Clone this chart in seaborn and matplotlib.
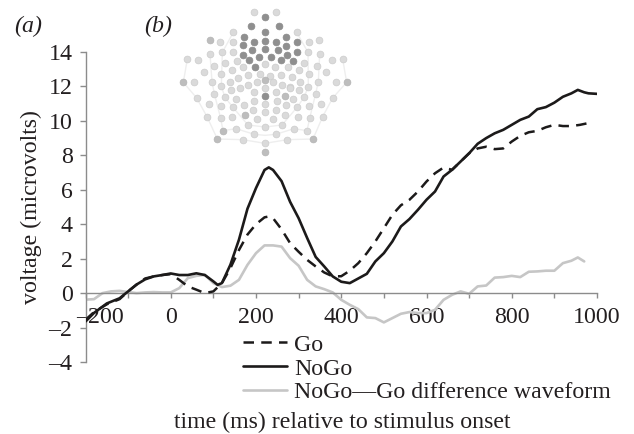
import numpy as np
import pandas as pd
import matplotlib
matplotlib.use("Agg")
import matplotlib.pyplot as plt
import matplotlib.transforms as mtrans
import seaborn as sns

# waveforms (ms, microvolts)
nogo_t = [-200, -180, -150, -120, -100, -80, -60, -40, -20, 0, 20, 40, 60, 80, 100, 110, 120, 140, 160, 180,
          200, 220, 230, 240, 260, 280, 300, 320, 340, 360, 380, 400, 420, 440, 460, 480, 500, 520, 540, 560,
          580, 600, 620, 640, 660, 680, 700, 720, 740, 760, 780, 800, 820, 840, 860, 880, 900, 920, 940, 955,
          970, 980, 1000]
nogo_v = [-1.65, -1.15, -0.6, -0.3, 0.1, 0.5, 0.8, 0.97, 1.05, 1.14, 1.05, 1.05, 1.15, 1.05, 0.68, 0.48, 0.58, 1.65, 3.1, 4.9,
          6.1, 7.15, 7.3, 7.15, 6.5, 5.3, 4.35, 3.2, 2.1, 1.55, 0.97, 0.66, 0.58, 0.85, 1.12, 1.84, 2.32, 3.0, 3.87, 4.3,
          4.84, 5.42, 5.9, 6.77, 7.16, 7.64, 8.12, 8.67, 9.0, 9.28, 9.48, 9.77, 10.06, 10.25, 10.68, 10.8, 11.06, 11.4, 11.6, 11.8,
          11.66, 11.6, 11.57]

go_t = [-200, -180, -150, -120, -100, -80, -60, -40, -20, 0, 20, 40, 60, 80, 100, 120, 140, 160, 180, 200,
        220, 230, 240, 260, 280, 300, 320, 340, 360, 380, 400, 420, 440, 460, 480, 500, 520, 540, 560, 580,
        600, 620, 640, 660, 680, 700, 720, 740, 760, 780, 800, 820, 840, 860, 880, 900, 920, 940, 960, 985]
go_v = [-1.55, -1.1, -0.65, -0.35, 0.1, 0.5, 0.85, 0.97, 1.05, 1.1, 0.77, 0.39, 0.2, 0.0, 0.1, 0.58, 1.45, 2.5, 3.4, 4.0,
        4.4, 4.45, 4.35, 3.7, 2.9, 2.4, 1.93, 1.55, 1.2, 0.97, 0.98, 1.3, 1.74, 2.32, 3.0, 3.77, 4.55, 5.1, 5.42, 5.9,
        6.48, 6.96, 7.29, 7.16, 7.64, 8.12, 8.4, 8.5, 8.36, 8.4, 8.8, 9.13, 9.34, 9.42, 9.63, 9.77, 9.7, 9.7, 9.77, 9.9]

diff_t = [-200, -180, -160, -140, -120, -100, -80, -60, -40, -20, 0, 20, 40, 60, 80, 100, 120, 140, 160, 180,
          200, 220, 240, 260, 280, 300, 320, 340, 360, 380, 400, 420, 440, 460, 480, 500, 520, 540, 560, 580,
          600, 620, 640, 660, 680, 700, 720, 740, 760, 780, 800, 820, 840, 860, 880, 900, 920, 940, 955, 970]
diff_v = [-0.38, -0.35, 0.0, 0.1, 0.13, 0.06, 0.0, 0.04, 0.06, 0.04, 0.04, 0.29, 0.87, 1.0, 1.06, 0.58, 0.35, 0.43, 0.77, 1.64,
          2.32, 2.77, 2.77, 2.7, 2.03, 1.59, 0.77, 0.39, 0.23, 0.04, -0.39, -0.68, -0.93, -1.41, -1.45, -1.7, -1.45, -1.2, -1.1, -1.16,
          -1.16, -0.97, -0.39, -0.1, 0.1, -0.04, 0.39, 0.44, 0.9, 0.93, 1.0, 0.93, 1.24, 1.26, 1.3, 1.3, 1.74, 1.88, 2.07, 1.84]

x_ticks = [-200, -100, 0, 100, 200, 300, 400, 500, 600, 700, 800, 900, 1000]
x_labels = ["–200", "", "0", "", "200", "", "400", "", "600", "", "800", "", "1000"]
y_ticks = [-4, -2, 0, 2, 4, 6, 8, 10, 12, 14]
y_labels = ["–4", "–2", "0", "2", "4", "6", "8", "10", "12", "14"]

# electrode positions on the scalp map
dark_x = [269, 229, 311, 269, 207, 333, 238, 269, 302, 366, 205, 333, 205, 232, 269, 308, 335, 366, 222, 252, 287, 317, 355, 240, 270]
dark_y = [51, 79, 79, 95, 110, 110, 125, 122, 125, 127, 135, 137, 165, 151, 146, 151, 165, 157, 181, 171, 171, 181, 184, 202, 289]
mid_x = [105, 25, 270, 330, 210, 144, 127, 414, 270, 515]
mid_y = [120, 247, 240, 287, 345, 392, 417, 417, 456, 247]
light_x = [237, 302, 175, 365, 135, 174, 403, 433, 105, 142, 174, 399, 434, 37, 68, 118, 151, 186, 388, 425, 471, 503,
           86, 139, 170, 203, 269, 300, 339, 371, 401, 454, 220, 255, 285, 319, 350,
           57, 111, 139, 165, 190, 220, 245, 295, 320, 346, 376, 430, 483,
           118, 168, 194, 238, 270, 302, 345, 372, 400, 422,
           65, 150, 183, 355, 387, 473,
           101, 137, 173, 207, 236, 270, 305, 332, 367, 403, 439,
           235, 270, 304, 96, 137, 172, 245, 294, 330, 368, 404, 443,
           219, 270, 321, 183, 357, 396, 238, 302, 203, 337, 270]
light_y = [36, 36, 97, 97, 125, 127, 125, 120, 162, 157, 157, 157, 162, 177, 179, 197, 188, 182, 188, 197, 179, 177,
           216, 221, 211, 202, 193, 202, 200, 211, 221, 216, 224, 222, 228, 224, 230,
           247, 245, 259, 245, 233, 255, 247, 247, 255, 262, 245, 245, 247,
           281, 269, 265, 277, 263, 277, 265, 270, 260, 281,
           294, 292, 296, 296, 292, 294,
           311, 317, 321, 315, 303, 313, 303, 315, 321, 317, 311,
           329, 337, 330, 350, 355, 352, 356, 356, 345, 352, 355, 350,
           375, 381, 375, 386, 386, 392, 403, 403, 419, 419, 430]

# rings joining the electrodes
ring1_x = [37, 25, 65, 96, 127, 203, 270, 337, 414, 443, 473, 515, 503]
ring1_y = [177, 247, 294, 350, 417, 419, 430, 419, 417, 350, 294, 247, 177]
ring2_x = [105, 111, 118, 137, 144, 183, 238, 270, 302, 357, 396, 404, 422, 430, 434]
ring2_y = [162, 245, 281, 355, 392, 386, 403, 406, 403, 386, 392, 355, 281, 245, 162]
ring3_x = [175, 142, 139, 150, 173, 219, 270, 321, 367, 387, 400, 399, 365]
ring3_y = [97, 157, 259, 292, 321, 375, 381, 375, 321, 292, 260, 157, 97]

text_col = "#231f20"
fs = 17.2
sns.set_style("white")
plt.rcParams["font.family"] = ["Liberation Serif", "DejaVu Serif"]
plt.rcParams["font.size"] = fs

W, H = 634, 434
fig = plt.figure(figsize=(W / 100, H / 100), dpi=100)
ax = fig.add_axes([85.5 / W, 1 - 362 / H, (597 - 85.5) / W, (362 - 52) / H])
ax.patch.set_alpha(0)

sns.lineplot(x=diff_t, y=diff_v, color="#c6c6c6", lw=1.9, label="NoGo—Go difference waveform", ax=ax, zorder=2)
sns.lineplot(x=go_t, y=go_v, color="#1c1a1a", lw=1.8, label="Go", ax=ax, zorder=3, dashes=(4.2, 2.9))
sns.lineplot(x=nogo_t, y=nogo_v, color="#1c1a1a", lw=1.9, label="NoGo", ax=ax, zorder=4)

for s in ["top", "right"]:
    ax.spines[s].set_visible(False)
ax.spines["bottom"].set_position(("data", 0))
ax.spines["bottom"].set_color("#8c8c8c")
ax.spines["left"].set_color("#8c8c8c")
ax.spines["bottom"].set_linewidth(1)
ax.spines["left"].set_linewidth(1)
ax.set_xlabel("")
ax.set_ylabel("")

ax.set_xlim(-200, 1000)
ax.set_ylim(-4, 14)
ax.set_xticks(x_ticks)
ax.set_xticklabels(x_labels)
ax.set_yticks(y_ticks)
ax.set_yticklabels(y_labels)
ax.tick_params(axis="x", bottom=True, length=3.8, width=1, color="#8c8c8c", labelcolor=text_col, labelsize=fs, pad=6)
ax.tick_params(axis="y", left=True, length=4.3, width=1, color="#8c8c8c", labelcolor=text_col, labelsize=fs, pad=5)
# the -200 label sits to the right of its tick in the original
first = ax.get_xticklabels()[0]
first.set_transform(first.get_transform() + mtrans.ScaledTranslation(15 / 100, 0, fig.dpi_scale_trans))

h, l = ax.get_legend_handles_labels()
order = [l.index("Go"), l.index("NoGo"), l.index("NoGo—Go difference waveform")]
leg = ax.legend([h[i] for i in order], [l[i] for i in order], frameon=False, fontsize=fs,
                loc="upper left", bbox_to_anchor=(243 / W, 1 - 334 / H), bbox_transform=fig.transFigure,
                borderpad=0, borderaxespad=0, labelspacing=0.09, handlelength=1.85, handletextpad=0.3, labelcolor=text_col)

fig.text(31 / W, 1 - 207 / H, "voltage (microvolts)", rotation=90, ha="center", va="center", color=text_col, fontsize=fs)
fig.text(342 / W, 1 - 422 / H, "time (ms) relative to stimulus onset", ha="center", va="center", color=text_col, fontsize=fs)
fig.text(28 / W, 1 - 26 / H, "(a)", style="italic", ha="center", va="center", color=text_col, fontsize=fs)
fig.text(158 / W, 1 - 26 / H, "(b)", style="italic", ha="center", va="center", color=text_col, fontsize=fs)

# scalp map
m = fig.add_axes([175 / W, 1 - 160 / H, 180 / W, 160 / H])
m.patch.set_alpha(0)
for rx, ry in [(ring1_x, ring1_y), (ring2_x, ring2_y), (ring3_x, ring3_y)]:
    m.plot(rx, ry, color="#eeeeee", lw=1, zorder=1)
sns.scatterplot(x=light_x, y=light_y, s=24, color="#dadada", edgecolor="#cccccc", linewidth=0.5, ax=m, zorder=2)
sns.scatterplot(x=mid_x, y=mid_y, s=24, color="#bdbdbd", edgecolor="#b4b4b4", linewidth=0.5, ax=m, zorder=2)
sns.scatterplot(x=dark_x, y=dark_y, s=24, color="#8f8f8f", edgecolor="#8a8a8a", linewidth=0.5, ax=m, zorder=2)
m.set_xlim(0, 540)
m.set_ylim(480, 0)
m.axis("off")

fig.savefig("out.png", dpi=100)
